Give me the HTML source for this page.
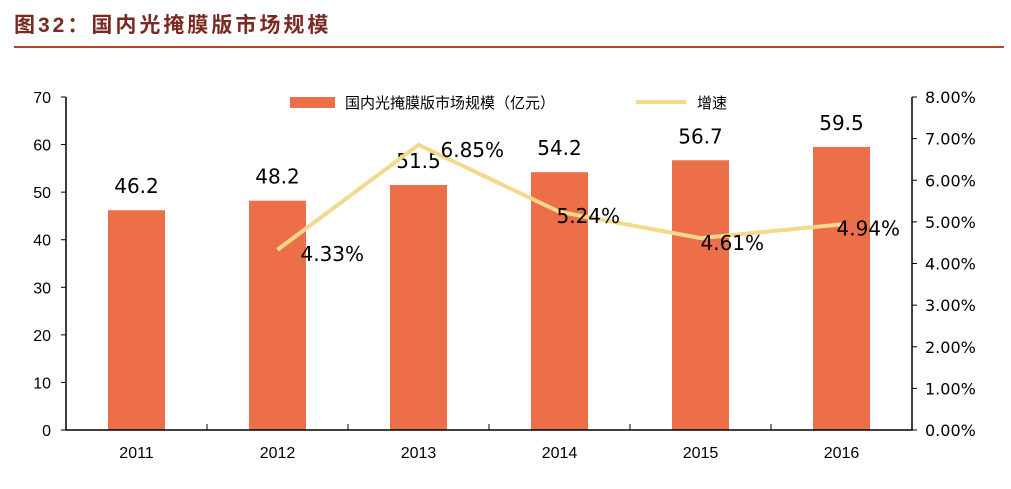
<!DOCTYPE html>
<html><head><meta charset="utf-8"><style>
body{margin:0;background:#fff;width:1011px;height:484px;overflow:hidden;font-family:"Liberation Sans","Noto Sans CJK SC",sans-serif}
</style></head><body>
<svg width="1011" height="484" xmlns="http://www.w3.org/2000/svg">
<text x="14" y="32" font-size="21" font-weight="bold" letter-spacing="3" fill="#7a2a22" font-family="'Liberation Sans','Noto Sans CJK SC',sans-serif">图32：国内光掩膜版市场规模</text>
<line x1="14" y1="47" x2="1004" y2="47" stroke="#b5452d" stroke-width="2"/>
<g id="plot"></g>
<rect x="290" y="97" width="45" height="11" fill="#ed6f4a"/>
<text x="345" y="108" font-size="15" fill="#000">国内光掩膜版市场规模（亿元）</text>
<line x1="636" y1="102" x2="686" y2="102" stroke="#f2d98b" stroke-width="4"/>
<text x="697" y="108" font-size="15" fill="#000">增速</text>
</svg>
<script>
const years=["2011","2012","2013","2014","2015","2016"];
const market=[46.2,48.2,51.5,54.2,56.7,59.5];
const growthYears=["2012","2013","2014","2015","2016"];
const growth=[4.33,6.85,5.24,4.61,4.94];
const leftTicks=[0,10,20,30,40,50,60,70];
const rightTicks=["0.00%","1.00%","2.00%","3.00%","4.00%","5.00%","6.00%","7.00%","8.00%"];
const NS="http://www.w3.org/2000/svg";
const g=document.getElementById('plot');
const X0=66,X1=912,Y0=430,Y1=97;
const step=(X1-X0)/years.length;
const xc=i=>X0+step*(i+0.5);
const yL=v=>Y0-(v/70)*(Y0-Y1);
const yR=v=>Y0-(v/8)*(Y0-Y1);
const lblDx=[23,22,-3,0,-5], lblDy=[11,12,11,12,11];
const LF="'DejaVu Sans',sans-serif";
function el(t,a){const e=document.createElementNS(NS,t);for(const k in a)e.setAttribute(k,a[k]);g.appendChild(e);return e;}
market.forEach((v,i)=>{
 const b=el('rect',{x:xc(i)-28.5,y:yL(v),width:57,height:Y0-yL(v),fill:'#ed6f4a'});
 
 
 const t=el('text',{x:xc(i),y:yL(v)-17,'font-size':20,'font-family':LF,'text-anchor':'middle',fill:'#000'});t.textContent=v.toFixed(1);
 
 
 const xt=el('text',{x:xc(i),y:458,'font-size':16,'text-anchor':'middle',fill:'#000'});xt.textContent=years[i];
 
 
});
const pts=growth.map((v,j)=>[xc(years.indexOf(growthYears[j])),yR(v)]);
const pl=el('polyline',{points:pts.map(p=>p.join(',')).join(' '),fill:'none',stroke:'#f2d98b','stroke-width':4});


growth.forEach((v,j)=>{
 const t=el('text',{x:pts[j][0]+lblDx[j],y:pts[j][1]+lblDy[j],'font-size':20,'font-family':LF,fill:'#000'});t.textContent=v.toFixed(2)+'%';
 
 
});
const ax=el('path',{d:`M${X0} ${Y1}V${Y0}H${X1}V${Y1}`,fill:'none',stroke:'#000','stroke-width':1.5});


leftTicks.forEach(v=>{
 el('line',{x1:X0-5,x2:X0,y1:yL(v),y2:yL(v),stroke:'#000'});
 const t=el('text',{x:X0-15,y:yL(v)+6,'font-size':16,'text-anchor':'end'});t.textContent=v;
 
 
});
rightTicks.forEach((s,i)=>{
 el('line',{x1:X1,x2:X1+5,y1:yR(i),y2:yR(i),stroke:'#000'});
 const t=el('text',{x:X1+13,y:yR(i)+6,'font-size':16,'font-family':LF});t.textContent=s;
 
 
});
for(let i=1;i<years.length;i++)el('line',{x1:X0+step*i,x2:X0+step*i,y1:Y0,y2:Y0-6,stroke:'#000'});
</script>
</body></html>
